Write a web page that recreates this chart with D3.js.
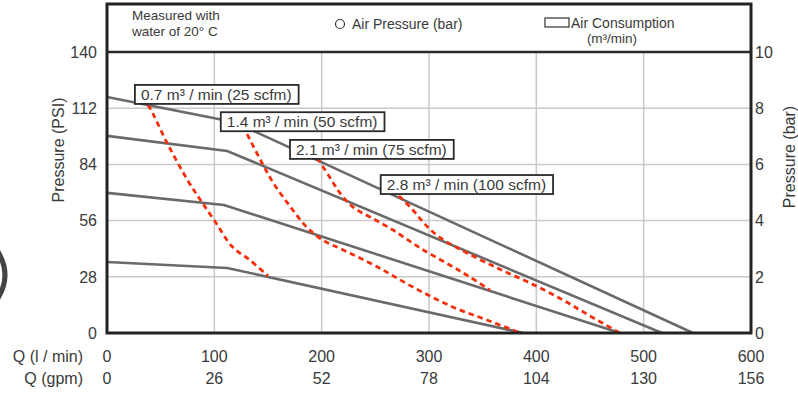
<!DOCTYPE html>
<html><head><meta charset="utf-8">
<script src="https://cdn.jsdelivr.net/npm/d3@7"></script>
<style>
body{margin:0;background:#fff}
svg{display:block}
text{font-family:"Liberation Sans",Arial,sans-serif;fill:#3a3a3a}
</style></head>
<body><svg id="c" width="798" height="393"></svg>
<script>
// ---- data ----
const flowLmin = [0,100,200,300,400,500,600];
const flowGpm  = [0,26,52,78,104,130,156];
const psiTicks = [0,28,56,84,112,140];
const barTicks = [0,2,4,6,8,10];

// gray curves: [Q l/min, PSI]
const pressureCurveA = [[0,117.6],[119,105],[546,0]];
const pressureCurveB = [[0,98.2],[112,90.7],[517,0]];
const pressureCurveC = [[0,69.8],[109,63.8],[478,0]];
const pressureCurveD = [[0,35.4],[112,32.4],[388,0]];

// red dashed air consumption curves: [Q l/min, PSI]
const consumption07 = [[38,113.5],[40,112.1],[56,94.7],[75,76.2],[87,66.3],[101,55.3],[117,42.8],[133,36.4],[150,28.4]];
const consumption14 = [[127,103.3],[130,99.7],[143,86.2],[155,74.7],[171,62.8],[186,52.8],[201,46.3],[220,41.4],[252,32.9],[285,22.9],[322,13.0],[354,6.5],[385,0]];
const consumption21 = [[196,87.2],[208,77.2],[217,69.8],[229,62.8],[245,57.8],[266.5,51.3],[291.6,42.4],[322.4,32.9],[338.2,27.9],[356.8,21.4]];
const consumption28 = [[272,68.3],[285,61.3],[294.4,55.3],[303.7,50.3],[316.8,45.3],[335.4,39.9],[363.4,32.4],[394.1,24.9],[424.9,16.4],[450,8.5],[478,0]];

const curveLabels = ["0.7 m³ / min (25 scfm)","1.4 m³ / min (50 scfm)","2.1 m³ / min (75 scfm)","2.8 m³ / min (100 scfm)"];
const labelAnchorQ   = [26,106,170.5,255];
const labelAnchorPSI = [123.6,110,96.2,78.7];

// ---- drawing ----
const svg = d3.select("#c");
const x = d3.scaleLinear().domain([0,600]).range([107,751]);
const y = d3.scaleLinear().domain([0,140]).range([333,52]);
const yBar = d3.scaleLinear().domain([0,10]).range([333,52]);

// left edge artifact
svg.append("path").attr("d","M -6 246 Q 16 275 -6 304").attr("fill","none")
  .attr("stroke","#444").attr("stroke-width",5);

// grid
svg.append("g").selectAll("line").data(flowLmin.slice(1,-1)).join("line")
  .attr("x1",d=>x(d)).attr("x2",d=>x(d)).attr("y1",y(140)).attr("y2",y(0))
  .attr("stroke","#c9c9c9").attr("stroke-width",1.5);
svg.append("g").selectAll("line").data(psiTicks.slice(1,-1)).join("line")
  .attr("x1",x(0)).attr("x2",x(600)).attr("y1",d=>y(d)).attr("y2",d=>y(d))
  .attr("stroke","#c9c9c9").attr("stroke-width",1.5);

// gray curves
const line = d3.line().x(d=>x(d[0])).y(d=>y(d[1]));
[pressureCurveA,pressureCurveB,pressureCurveC,pressureCurveD].forEach(c=>{
  svg.append("path").attr("d",line(c)).attr("fill","none")
    .attr("stroke","#6a6a6a").attr("stroke-width",2.6);
});

// red dashed curves
const curve = d3.line().x(d=>x(d[0])).y(d=>y(d[1])).curve(d3.curveCatmullRom);
[consumption07,consumption14,consumption21,consumption28].forEach(c=>{
  svg.append("path").attr("d",curve(c)).attr("fill","none")
    .attr("stroke","#f4300c").attr("stroke-width",2.8).attr("stroke-dasharray","5.5,4");
});

// labels
curveLabels.forEach((t,i)=>{
  const g = svg.append("g").attr("transform",`translate(${x(labelAnchorQ[i])},${y(labelAnchorPSI[i])})`);
  const r = g.append("rect").attr("fill","#fff").attr("stroke","#2a2a2a").attr("stroke-width",1.8).attr("height",19);
  const tx = g.append("text").attr("x",6).attr("y",15).attr("font-size",15.5).text(t);
  const w = tx.node().getComputedTextLength();
  r.attr("width",w+13);
});

// frame
svg.append("rect").attr("x",x(0)).attr("y",4).attr("width",x(600)-x(0)).attr("height",y(0)-4)
  .attr("fill","none").attr("stroke","#222").attr("stroke-width",3);
svg.append("line").attr("x1",x(0)).attr("x2",x(600)).attr("y1",y(140)).attr("y2",y(140))
  .attr("stroke","#2a2a2a").attr("stroke-width",2.4);

// legend area
svg.append("text").attr("x",132).attr("y",20).attr("font-size",13.5).text("Measured with");
svg.append("text").attr("x",132).attr("y",35.5).attr("font-size",13.5).text("water of 20° C");
svg.append("circle").attr("cx",340).attr("cy",24).attr("r",4.5).attr("fill","none").attr("stroke","#333").attr("stroke-width",1.2);
svg.append("text").attr("x",352).attr("y",29).attr("font-size",14).text("Air Pressure (bar)");
svg.append("rect").attr("x",545).attr("y",18).attr("width",24).attr("height",9).attr("fill","none").attr("stroke","#333").attr("stroke-width",1.2);
svg.append("text").attr("x",571).attr("y",28).attr("font-size",14).text("Air Consumption");
svg.append("text").attr("x",612).attr("y",43).attr("font-size",13.5).attr("text-anchor","middle").text("(m³/min)");

// left ticks
svg.append("g").selectAll("text").data(psiTicks).join("text")
  .attr("x",97).attr("y",d=>y(d)).attr("dy","0.36em").attr("text-anchor","end")
  .attr("font-size",16).text(d=>d);
// right ticks
svg.append("g").selectAll("text").data(barTicks).join("text")
  .attr("x",755).attr("y",d=>yBar(d)).attr("dy","0.36em")
  .attr("font-size",16).text(d=>d);

// bottom rows
svg.append("g").selectAll("text").data(flowLmin).join("text")
  .attr("x",d=>x(d)).attr("y",362).attr("text-anchor","middle").attr("font-size",16).text(d=>d);
svg.append("g").selectAll("text").data(flowGpm).join("text")
  .attr("x",(d,i)=>x(flowLmin[i])).attr("y",384).attr("text-anchor","middle").attr("font-size",16).text(d=>d);
svg.append("text").attr("x",83).attr("y",362).attr("text-anchor","end").attr("font-size",16).text("Q (l / min)");
svg.append("text").attr("x",83).attr("y",384).attr("text-anchor","end").attr("font-size",16).text("Q (gpm)");

// axis titles
svg.append("text").attr("transform","translate(64,150) rotate(-90)").attr("text-anchor","middle").attr("font-size",16).text("Pressure (PSI)");
svg.append("text").attr("transform","translate(795,157) rotate(-90)").attr("text-anchor","middle").attr("font-size",16).text("Pressure (bar)");
</script></body></html>
